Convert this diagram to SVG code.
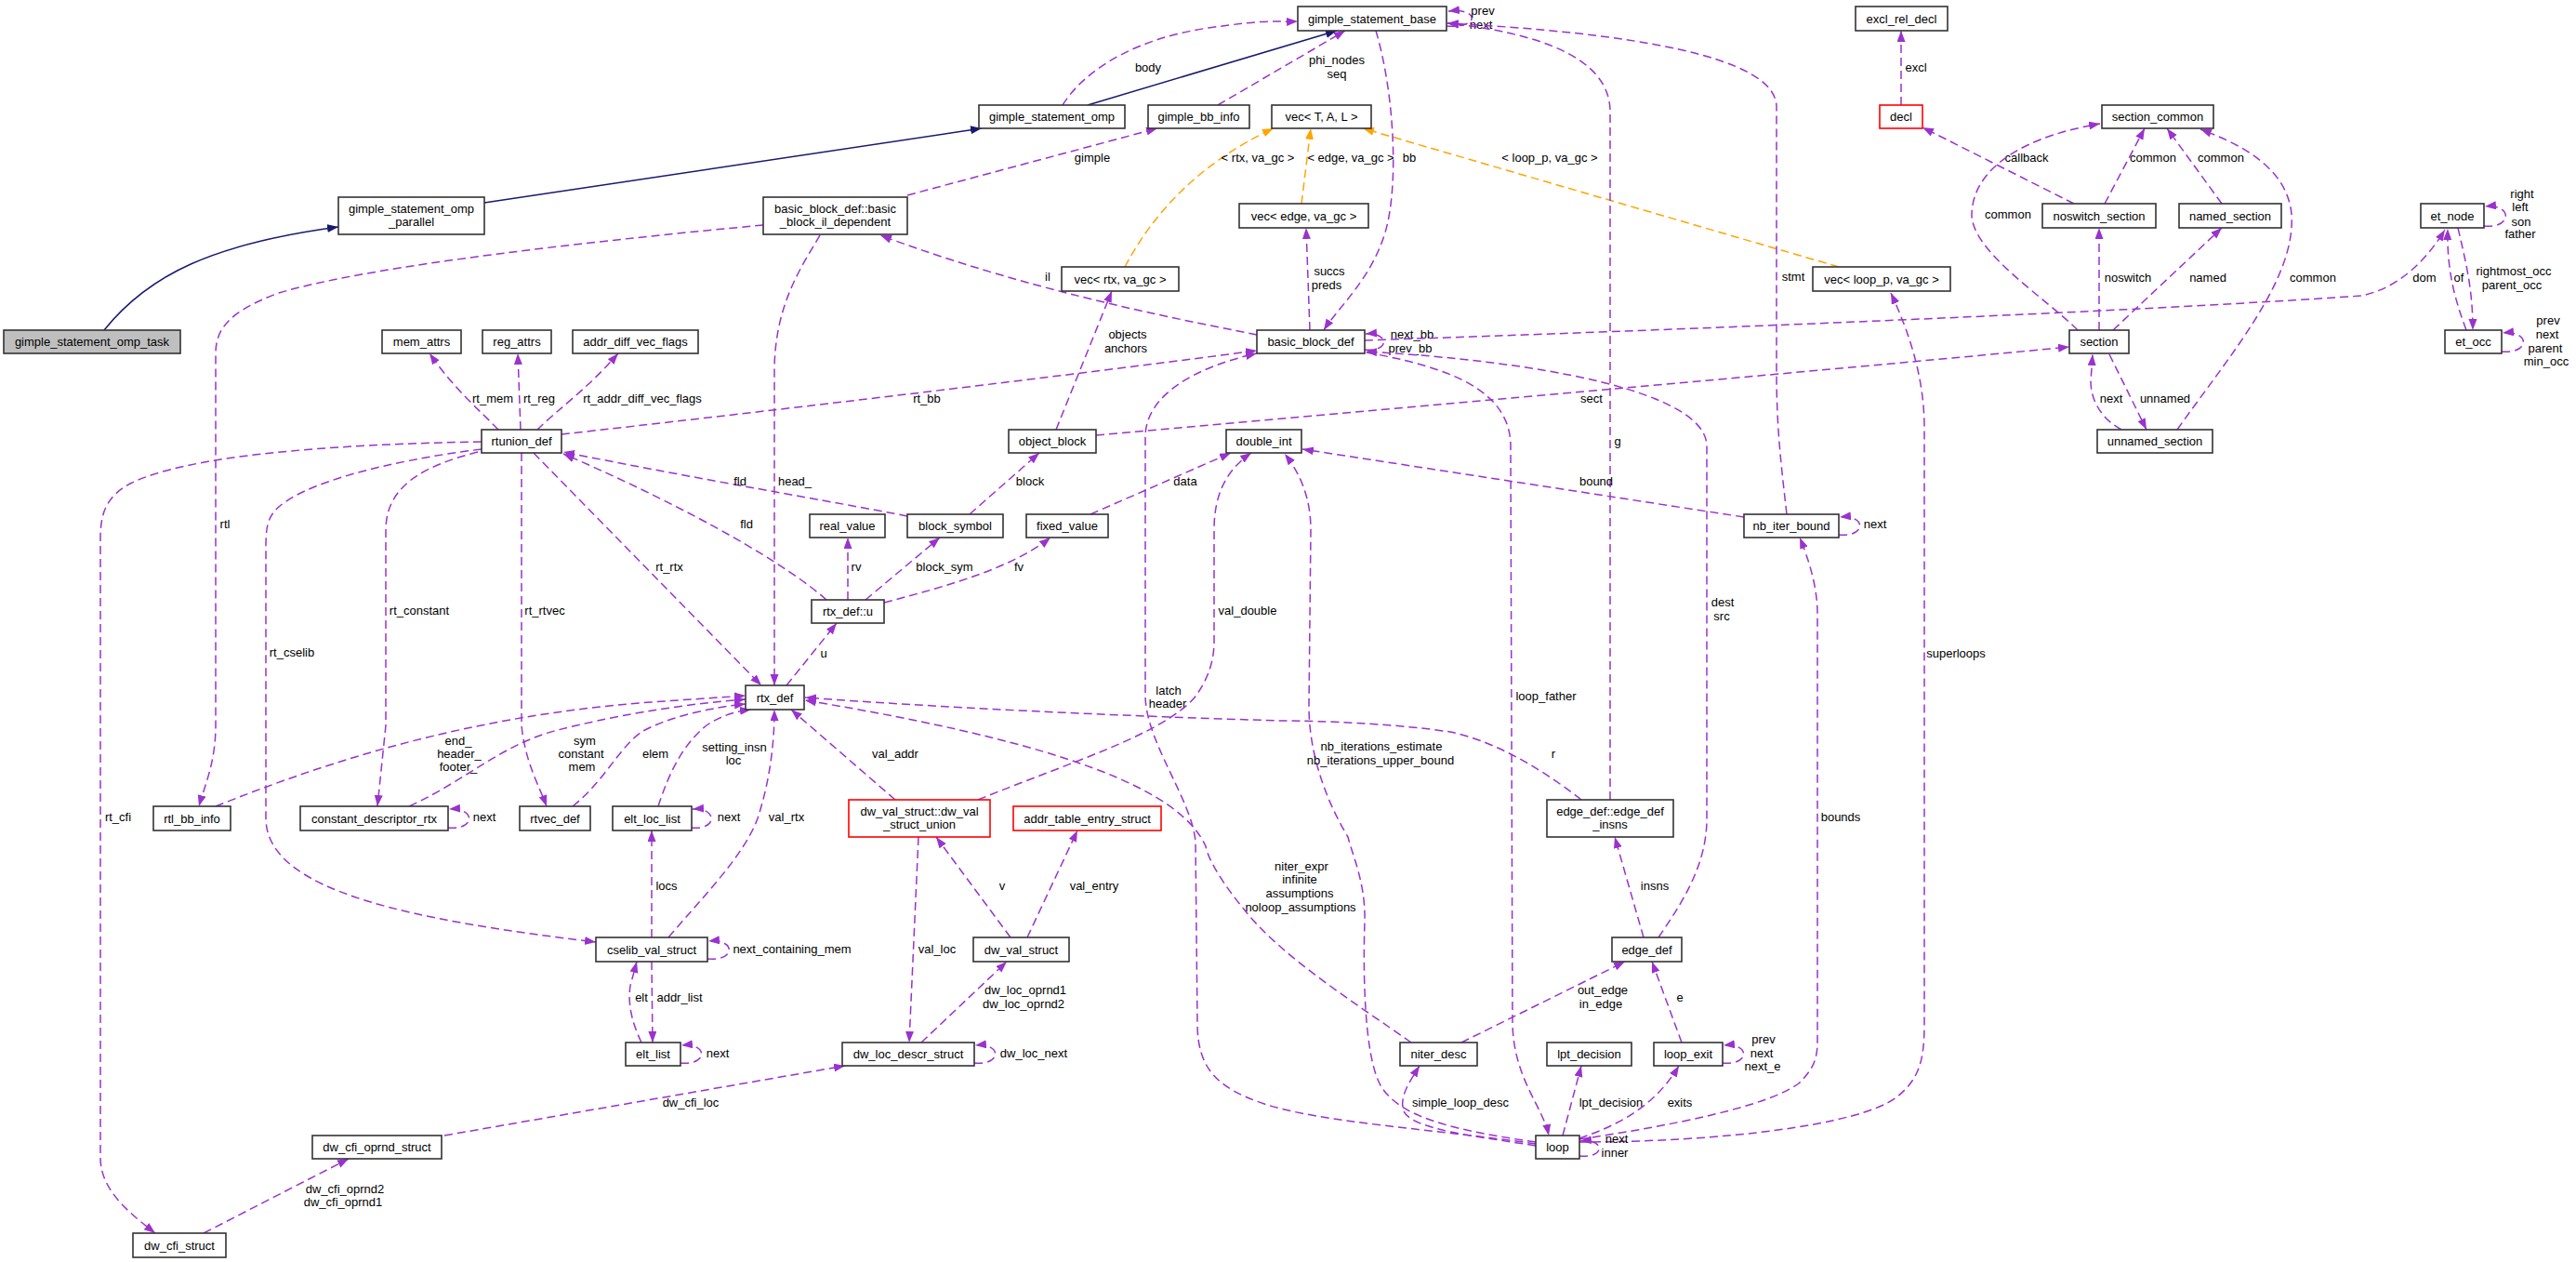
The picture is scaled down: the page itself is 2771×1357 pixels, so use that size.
<svg xmlns="http://www.w3.org/2000/svg" width="2771" height="1357" viewBox="0 0 2771 1357">
<defs>
<style>
.n rect{fill:#fff;stroke:#333;stroke-width:1.6}
.n.r rect{stroke:#ff0000}
.n.g rect{fill:#bfbfbf}
text{font-family:"Liberation Sans",Arial,Helvetica,sans-serif;font-size:13px;text-anchor:middle;fill:#000}
.d{fill:none;stroke:#9a32cd;stroke-width:1.5;stroke-dasharray:9,5;marker-end:url(#ap)}
.o{fill:none;stroke:#ffa500;stroke-width:1.5;stroke-dasharray:9,5;marker-end:url(#ao)}
.s{fill:none;stroke:#191970;stroke-width:1.5;marker-end:url(#an)}
</style>
<marker id="ap" markerUnits="userSpaceOnUse" markerWidth="14" markerHeight="10" refX="12" refY="4.5" orient="auto"><path d="M0,0 L12,4.5 L0,9 Z" fill="#9a32cd"/></marker>
<marker id="ao" markerUnits="userSpaceOnUse" markerWidth="14" markerHeight="10" refX="12" refY="4.5" orient="auto"><path d="M0,0 L12,4.5 L0,9 Z" fill="#ffa500"/></marker>
<marker id="an" markerUnits="userSpaceOnUse" markerWidth="14" markerHeight="10" refX="12" refY="4.5" orient="auto"><path d="M0,0 L12,4.5 L0,9 Z" fill="#191970"/></marker>
</defs>
<rect width="2771" height="1357" fill="#fff"/>
<g id="connectors">
<path class="s" d="M112,355 C160,295 230,262 364,244"/>
<path class="s" d="M521,218 L1056,138"/>
<path class="s" d="M1170,113 L1438,33"/>
<path class="d" d="M1143,113 C1170,70 1230,40 1300,30 S1370,24 1396,23"/><text x="1235" y="77">body</text>
<path class="d" d="M1310,113 L1447,33"/><text x="1438" y="69">phi_nodes</text><text x="1438" y="84">seq</text>
<path class="d" d="M1556,28 C1592,31 1592,8 1558,12"/><text x="1595" y="16">prev</text><text x="1593" y="31">next</text>
<path class="d" d="M976,210 L1245,138"/><text x="1175" y="174">gimple</text>
<path class="o" d="M1210,287 C1240,230 1290,175 1370,138"/><text x="1353" y="174">&lt; rtx, va_gc &gt;</text>
<path class="o" d="M1400,219 L1410,138"/><text x="1453" y="174">&lt; edge, va_gc &gt;</text>
<path class="o" d="M1978,287 L1466,138"/><text x="1667" y="174">&lt; loop_p, va_gc &gt;</text>
<path class="d" d="M1480,33 C1500,100 1505,200 1490,250 S1440,330 1424,355"/><text x="1516" y="174">bb</text>
<path class="d" d="M1409,355 L1405,245"/><text x="1430" y="296">succs</text><text x="1427" y="311">preds</text>
<path class="d" d="M1352,360 C1250,340 1100,310 947,253"/><text x="1127" y="302">il</text>
<path class="d" d="M1468,376 C1495,379 1495,357 1469,359"/><text x="1519" y="364">next_bb</text><text x="1517" y="379">prev_bb</text>
<path class="d" d="M882,253 C860,290 833,330 833,400 L833,737"/><text x="855" y="522">head_</text>
<path class="d" d="M821,242 C650,258 400,285 300,315 C245,335 232,355 232,380 L232,780 C232,820 220,845 214,867"/><text x="242" y="568">rtl</text>
<path class="d" d="M1136,462 L1196,313"/><text x="1213" y="364">objects</text><text x="1211" y="379">anchors</text>
<path class="d" d="M604,467 C800,445 1100,410 1352,377"/><text x="997" y="433">rt_bb</text>
<path class="d" d="M1652,1230 C1550,1215 1420,1207 1360,1187 C1310,1170 1288,1150 1288,1100 L1286,905 C1282,860 1234,800 1232,750 L1232,470 C1232,425 1285,395 1352,380"/><text x="1257" y="747">latch</text><text x="1256" y="761">header</text>
<path class="d" d="M1470,379 C1560,395 1625,420 1625,480 L1627,1100 C1628,1160 1660,1190 1666,1221"/><text x="1663" y="753">loop_father</text>
<path class="d" d="M1784,1008 C1810,970 1836,930 1836,880 L1836,480 C1836,420 1650,388 1469,378"/><text x="1853" y="652">dest</text><text x="1852" y="667">src</text>
<path class="d" d="M1468,366 C1800,355 2300,335 2540,318 C2580,310 2610,280 2630,247"/><text x="2608" y="303">dom</text>
<path class="d" d="M1179,468 C1600,430 2000,395 2226,373"/><text x="1712" y="433">sect</text>
<path class="d" d="M1699,1228 C1850,1228 2000,1210 2040,1180 C2065,1160 2070,1140 2070,1100 L2070,460 C2070,400 2050,350 2034,315"/><text x="2104" y="707">superloops</text>
<path class="d" d="M1922,553 C1916,500 1911,460 1911,400 L1911,115 C1911,60 1750,35 1557,25"/><text x="1929" y="302">stmt</text>
<path class="d" d="M1732,860 L1732,120 C1732,60 1650,35 1557,25"/><text x="1740" y="479">g</text>
<path class="d" d="M2045,113 L2045,33"/><text x="2061" y="77">excl</text>
<path class="d" d="M2231,219 L2068,137"/><text x="2180" y="174">callback</text>
<path class="d" d="M2235,355 C2200,320 2120,270 2121,230 C2122,190 2160,150 2259,133"/><text x="2160" y="235">common</text>
<path class="d" d="M2264,219 L2307,138"/><text x="2316" y="174">common</text>
<path class="d" d="M2390,219 L2331,138"/><text x="2389" y="174">common</text>
<path class="d" d="M2342,462 C2400,380 2470,300 2465,230 C2460,180 2410,155 2367,139"/><text x="2488" y="303">common</text>
<path class="d" d="M2258,355 L2258,245"/><text x="2289" y="303">noswitch</text>
<path class="d" d="M2273,355 L2390,245"/><text x="2375" y="303">named</text>
<path class="d" d="M2282,462 C2260,450 2249,430 2249,410 L2251,381"/><text x="2271" y="433">next</text>
<path class="d" d="M2269,381 L2309,462"/><text x="2329" y="433">unnamed</text>
<path class="d" d="M2672,243 C2703,246 2703,219 2673,222"/><text x="2713" y="213">right</text><text x="2711" y="227">left</text><text x="2712" y="243">son</text><text x="2711" y="256">father</text>
<path class="d" d="M2653,355 C2640,320 2632,290 2633,246"/><text x="2645" y="303">of</text>
<path class="d" d="M2644,245 C2652,280 2660,310 2660,355"/><text x="2704" y="296">rightmost_occ</text><text x="2702" y="311">parent_occ</text>
<path class="d" d="M2691,378 C2722,381 2722,355 2692,358"/><text x="2741" y="349">prev</text><text x="2740" y="364">next</text><text x="2738" y="379">parent</text><text x="2739" y="393">min_occ</text>
<path class="d" d="M536,462 C515,440 490,420 462,380"/><text x="530" y="433">rt_mem</text>
<path class="d" d="M560,462 L557,380"/><text x="580" y="433">rt_reg</text>
<path class="d" d="M578,462 C600,440 630,420 665,380"/><text x="691" y="433">rt_addr_diff_vec_flags</text>
<path class="d" d="M518,475 C350,478 200,490 140,520 C112,535 108,555 108,580 L108,1245 C108,1280 140,1305 167,1326"/><text x="127" y="883">rt_cfi</text>
<path class="d" d="M518,483 C420,495 320,520 295,550 C287,560 286,570 286,590 L286,880 C286,960 450,990 641,1013"/><text x="314" y="706">rt_cselib</text>
<path class="d" d="M514,486 C460,500 415,520 415,570 L415,780 L406,867"/><text x="451" y="661">rt_constant</text>
<path class="d" d="M561,487 L561,780 C565,820 580,845 588,867"/><text x="586" y="661">rt_rtvec</text>
<path class="d" d="M574,487 L819,737"/><text x="720" y="614">rt_rtx</text>
<path class="d" d="M976,555 C900,540 750,515 606,486"/><text x="796" y="522">fld</text>
<path class="d" d="M889,645 C850,610 750,550 606,488"/><text x="803" y="568">fld</text>
<path class="d" d="M232,867 C350,820 500,770 700,755 L802,748"/><text x="493" y="801">end_</text><text x="494" y="815">header_</text><text x="493" y="829">footer_</text>
<path class="d" d="M440,867 C500,840 540,800 600,785 C650,772 730,757 802,752"/><text x="629" y="801">sym</text><text x="625" y="815">constant</text><text x="626" y="829">mem</text>
<path class="d" d="M616,867 C650,840 665,805 690,787 C720,770 770,760 802,757"/><text x="705" y="815">elem</text>
<path class="d" d="M482,890 C512,893 512,868 483,870"/><text x="521" y="883">next</text>
<path class="d" d="M1043,553 L1118,487"/><text x="1108" y="522">block</text>
<path class="d" d="M1173,553 L1324,487"/><text x="1275" y="522">data</text>
<path class="d" d="M912,645 L912,578"/><text x="921" y="614">rv</text>
<path class="d" d="M931,645 L1011,578"/><text x="1016" y="614">block_sym</text>
<path class="d" d="M951,648 C1020,630 1090,610 1130,578"/><text x="1096" y="614">fv</text>
<path class="d" d="M846,737 L900,670"/><text x="886" y="707">u</text>
<path class="d" d="M1052,860 C1150,820 1250,790 1285,750 C1300,730 1306,710 1306,690 L1306,570 C1306,530 1320,505 1346,487"/><text x="1342" y="661">val_double</text>
<path class="d" d="M963,860 L851,763"/><text x="963" y="815">val_addr</text>
<path class="d" d="M708,867 C720,830 735,800 760,780 C775,770 790,765 808,763"/><text x="790" y="808">setting_insn</text><text x="789" y="822">loc</text>
<path class="d" d="M719,1008 C760,960 800,920 815,880 C828,840 833,800 833,763"/><text x="846" y="883">val_rtx</text>
<path class="d" d="M744,890 C772,893 772,868 745,870"/><text x="784" y="883">next</text>
<path class="d" d="M1518,1121 C1460,1080 1380,1030 1340,980 C1315,950 1300,925 1297,910 C1270,850 1150,800 866,753"/><text x="1400" y="936">niter_expr</text><text x="1398" y="950">infinite</text><text x="1398" y="965">assumptions</text><text x="1399" y="980">noloop_assumptions</text>
<path class="d" d="M1652,1228 C1560,1215 1500,1200 1483,1163 C1468,1130 1466,1050 1468,990 C1469,950 1455,920 1450,900 C1420,850 1408,800 1408,760 L1410,570 C1410,530 1395,505 1382,488"/><text x="1486" y="807">nb_iterations_estimate</text><text x="1485" y="822">nb_iterations_upper_bound</text>
<path class="d" d="M1701,860 C1650,820 1600,795 1560,787 C1500,778 1420,775 1380,775 C1200,770 1000,760 866,750"/><text x="1671" y="815">r</text>
<path class="d" d="M1876,556 L1401,483"/><text x="1717" y="522">bound</text>
<path class="d" d="M1978,575 C2008,578 2008,553 1979,556"/><text x="2017" y="568">next</text>
<path class="d" d="M1699,1225 C1800,1210 1900,1190 1935,1165 C1950,1150 1955,1140 1955,1120 L1955,660 C1955,630 1945,600 1936,578"/><text x="1980" y="883">bounds</text>
<path class="d" d="M701,1008 L701,893"/><text x="717" y="957">locs</text>
<path class="d" d="M701,1034 L702,1121"/><text x="731" y="1077">addr_list</text>
<path class="d" d="M690,1121 C680,1100 675,1080 678,1060 L685,1034"/><text x="690" y="1077">elt</text>
<path class="d" d="M761,1031 C792,1034 792,1009 762,1012"/><text x="852" y="1025">next_containing_mem</text>
<path class="d" d="M732,1143 C762,1146 762,1121 733,1124"/><text x="772" y="1137">next</text>
<path class="d" d="M988,900 L978,1121"/><text x="1008" y="1025">val_loc</text>
<path class="d" d="M1087,1008 L1007,900"/><text x="1078" y="957">v</text>
<path class="d" d="M1105,1008 L1159,893"/><text x="1177" y="957">val_entry</text>
<path class="d" d="M991,1121 L1083,1034"/><text x="1103" y="1069">dw_loc_oprnd1</text><text x="1101" y="1084">dw_loc_oprnd2</text>
<path class="d" d="M1048,1143 C1078,1146 1078,1121 1049,1124"/><text x="1112" y="1137">dw_loc_next</text>
<path class="d" d="M478,1221 L909,1146"/><text x="743" y="1190">dw_cfi_loc</text>
<path class="d" d="M219,1326 L375,1246"/><text x="371" y="1283">dw_cfi_oprnd2</text><text x="369" y="1297">dw_cfi_oprnd1</text>
<path class="d" d="M1768,1008 L1737,900"/><text x="1780" y="957">insns</text>
<path class="d" d="M1572,1121 L1748,1034"/><text x="1724" y="1069">out_edge</text><text x="1722" y="1084">in_edge</text>
<path class="d" d="M1809,1121 L1777,1034"/><text x="1807" y="1077">e</text>
<path class="d" d="M1853,1143 C1883,1146 1883,1121 1854,1124"/><text x="1897" y="1122">prev</text><text x="1895" y="1137">next</text><text x="1896" y="1151">next_e</text>
<path class="d" d="M1652,1232 C1590,1222 1520,1215 1510,1195 C1505,1180 1515,1165 1527,1146"/><text x="1571" y="1190">simple_loop_desc</text>
<path class="d" d="M1681,1221 L1701,1146"/><text x="1733" y="1190">lpt_decision</text>
<path class="d" d="M1699,1224 C1740,1210 1780,1190 1806,1146"/><text x="1807" y="1190">exits</text>
<path class="d" d="M1699,1243 C1727,1246 1727,1224 1700,1227"/><text x="1739" y="1229">next</text><text x="1737" y="1244">inner</text>
</g>
<g id="node-task" class="n g"><rect x="4" y="355" width="190" height="25"/><text x="99" y="372">gimple_statement_omp_task</text></g>
<g id="node-parallel" class="n"><rect x="364" y="212" width="157" height="40"/><text x="442.5" y="228.5">gimple_statement_omp</text><text x="442.5" y="242.5">_parallel</text></g>
<g id="node-omp" class="n"><rect x="1053" y="113" width="157" height="25"/><text x="1131.5" y="130">gimple_statement_omp</text></g>
<g id="node-base" class="n"><rect x="1396" y="7" width="160" height="26"/><text x="1476" y="24.5">gimple_statement_base</text></g>
<g id="node-bbinfo" class="n"><rect x="1235" y="113" width="109" height="25"/><text x="1289.5" y="130">gimple_bb_info</text></g>
<g id="node-vectal" class="n"><rect x="1368" y="113" width="107" height="25"/><text x="1421.5" y="130">vec&lt; T, A, L &gt;</text></g>
<g id="node-ildep" class="n"><rect x="821" y="212" width="155" height="40"/><text x="898.5" y="228.5">basic_block_def::basic</text><text x="898.5" y="242.5">_block_il_dependent</text></g>
<g id="node-vecrtx" class="n"><rect x="1142" y="287" width="126" height="26"/><text x="1205" y="304.5">vec&lt; rtx, va_gc &gt;</text></g>
<g id="node-vecedge" class="n"><rect x="1333" y="219" width="139" height="26"/><text x="1402.5" y="236.5">vec&lt; edge, va_gc &gt;</text></g>
<g id="node-bbd" class="n"><rect x="1352" y="355" width="116" height="25"/><text x="1410" y="372">basic_block_def</text></g>
<g id="node-vecloop" class="n"><rect x="1950" y="287" width="148" height="26"/><text x="2024" y="304.5">vec&lt; loop_p, va_gc &gt;</text></g>
<g id="node-exclreldecl" class="n"><rect x="1996" y="7" width="99" height="26"/><text x="2045.5" y="24.5">excl_rel_decl</text></g>
<g id="node-decl" class="n r"><rect x="2022" y="113" width="46" height="25"/><text x="2045" y="130">decl</text></g>
<g id="node-sectioncommon" class="n"><rect x="2261" y="113" width="120" height="25"/><text x="2321" y="130">section_common</text></g>
<g id="node-noswitch" class="n"><rect x="2197" y="219" width="122" height="26"/><text x="2258" y="236.5">noswitch_section</text></g>
<g id="node-named" class="n"><rect x="2344" y="219" width="110" height="26"/><text x="2399" y="236.5">named_section</text></g>
<g id="node-etnode" class="n"><rect x="2604" y="219" width="68" height="26"/><text x="2638" y="236.5">et_node</text></g>
<g id="node-section" class="n"><rect x="2226" y="355" width="64" height="25"/><text x="2258" y="372">section</text></g>
<g id="node-etocc" class="n"><rect x="2630" y="355" width="61" height="25"/><text x="2660.5" y="372">et_occ</text></g>
<g id="node-unnamed" class="n"><rect x="2256" y="462" width="124" height="25"/><text x="2318" y="479">unnamed_section</text></g>
<g id="node-memattrs" class="n"><rect x="411" y="355" width="85" height="25"/><text x="453.5" y="372">mem_attrs</text></g>
<g id="node-regattrs" class="n"><rect x="519" y="355" width="74" height="25"/><text x="556" y="372">reg_attrs</text></g>
<g id="node-addrdiff" class="n"><rect x="616" y="355" width="135" height="25"/><text x="683.5" y="372">addr_diff_vec_flags</text></g>
<g id="node-rtunion" class="n"><rect x="518" y="462" width="86" height="25"/><text x="561" y="479">rtunion_def</text></g>
<g id="node-objectblock" class="n"><rect x="1085" y="462" width="94" height="25"/><text x="1132" y="479">object_block</text></g>
<g id="node-doubleint" class="n"><rect x="1319" y="462" width="81" height="25"/><text x="1359.5" y="479">double_int</text></g>
<g id="node-realvalue" class="n"><rect x="871" y="553" width="81" height="25"/><text x="911.5" y="570">real_value</text></g>
<g id="node-blocksymbol" class="n"><rect x="976" y="553" width="103" height="25"/><text x="1027.5" y="570">block_symbol</text></g>
<g id="node-fixedvalue" class="n"><rect x="1104" y="553" width="88" height="25"/><text x="1148" y="570">fixed_value</text></g>
<g id="node-nbiterbound" class="n"><rect x="1876" y="553" width="102" height="25"/><text x="1927" y="570">nb_iter_bound</text></g>
<g id="node-rtxdefu" class="n"><rect x="873" y="645" width="78" height="25"/><text x="912" y="662">rtx_def::u</text></g>
<g id="node-rtxdef" class="n"><rect x="802" y="737" width="63" height="26"/><text x="833.5" y="754.5">rtx_def</text></g>
<g id="node-dwvalunion" class="n r"><rect x="913" y="860" width="152" height="40"/><text x="989" y="876.5">dw_val_struct::dw_val</text><text x="989" y="890.5">_struct_union</text></g>
<g id="node-addrtable" class="n r"><rect x="1090" y="867" width="159" height="26"/><text x="1169.5" y="884.5">addr_table_entry_struct</text></g>
<g id="node-edgeinsns" class="n"><rect x="1664" y="860" width="136" height="40"/><text x="1732" y="876.5">edge_def::edge_def</text><text x="1732" y="890.5">_insns</text></g>
<g id="node-rtlbbinfo" class="n"><rect x="165" y="867" width="83" height="26"/><text x="206.5" y="884.5">rtl_bb_info</text></g>
<g id="node-constdesc" class="n"><rect x="323" y="867" width="159" height="26"/><text x="402.5" y="884.5">constant_descriptor_rtx</text></g>
<g id="node-rtvecdef" class="n"><rect x="559" y="867" width="76" height="26"/><text x="597" y="884.5">rtvec_def</text></g>
<g id="node-eltloclist" class="n"><rect x="659" y="867" width="85" height="26"/><text x="701.5" y="884.5">elt_loc_list</text></g>
<g id="node-cselib" class="n"><rect x="641" y="1008" width="120" height="26"/><text x="701" y="1025.5">cselib_val_struct</text></g>
<g id="node-dwvalstruct" class="n"><rect x="1047" y="1008" width="103" height="26"/><text x="1098.5" y="1025.5">dw_val_struct</text></g>
<g id="node-edgedef" class="n"><rect x="1734" y="1008" width="75" height="26"/><text x="1771.5" y="1025.5">edge_def</text></g>
<g id="node-eltlist" class="n"><rect x="673" y="1121" width="59" height="25"/><text x="702.5" y="1138">elt_list</text></g>
<g id="node-dwlocdescr" class="n"><rect x="906" y="1121" width="142" height="25"/><text x="977" y="1138">dw_loc_descr_struct</text></g>
<g id="node-niterdesc" class="n"><rect x="1506" y="1121" width="83" height="25"/><text x="1547.5" y="1138">niter_desc</text></g>
<g id="node-lptdecision" class="n"><rect x="1664" y="1121" width="91" height="25"/><text x="1709.5" y="1138">lpt_decision</text></g>
<g id="node-loopexit" class="n"><rect x="1779" y="1121" width="74" height="25"/><text x="1816" y="1138">loop_exit</text></g>
<g id="node-dwcfioprnd" class="n"><rect x="336" y="1221" width="139" height="25"/><text x="405.5" y="1238">dw_cfi_oprnd_struct</text></g>
<g id="node-loop" class="n"><rect x="1652" y="1221" width="47" height="25"/><text x="1675.5" y="1238">loop</text></g>
<g id="node-dwcfistruct" class="n"><rect x="143" y="1326" width="100" height="26"/><text x="193" y="1343.5">dw_cfi_struct</text></g>
</svg>
